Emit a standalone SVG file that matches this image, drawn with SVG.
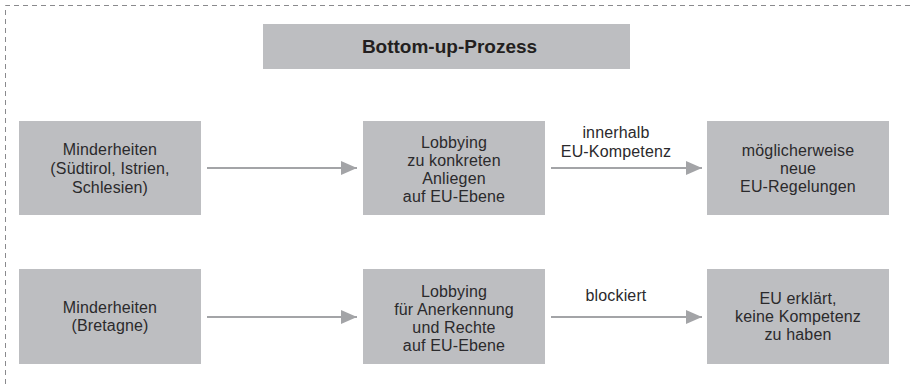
<svg xmlns="http://www.w3.org/2000/svg" width="911" height="384" viewBox="0 0 911 384">
  <defs>
    <marker id="arrow" viewBox="0 0 16 14" refX="16" refY="7" markerWidth="16" markerHeight="14" markerUnits="userSpaceOnUse" orient="auto">
      <path d="M0,0 L16,7 L0,14 Z" fill="#a3a4a7"/>
    </marker>
    <style>
      .frame { fill: none; stroke: #8a8a8d; stroke-width: 1; stroke-dasharray: 5 4; }
      .box { fill: #bdbec1; }
      .txt { font-family: "Liberation Sans", Arial, sans-serif; font-size: 16px; fill: #2b2a2c; text-anchor: middle; letter-spacing: 0.15px; }
      .title { font-family: "Liberation Sans", Arial, sans-serif; font-size: 19px; font-weight: bold; fill: #231f20; text-anchor: middle; }
      .conn { stroke: #a3a4a7; stroke-width: 2.2; fill: none; marker-end: url(#arrow); }
    </style>
  </defs>

  <!-- dashed outer frame (open towards right and bottom) -->
  <path class="frame" d="M5.5,384 V5.5 H911"/>

  <g id="title">
    <rect class="box" x="263" y="24" width="367" height="45"/>
    <text class="title" x="449.5" y="53">Bottom-up-Prozess</text>
  </g>

  <!-- row 1 -->
  <g id="minderheiten-1">
    <rect class="box" x="19" y="121" width="182" height="94"/>
    <text class="txt" x="110" y="174"><tspan x="110" dy="-19">Minderheiten</tspan><tspan x="110" dy="19">(Südtirol, Istrien,</tspan><tspan x="110" dy="19">Schlesien)</tspan></text>
  </g>
  <g id="lobbying-1">
    <rect class="box" x="363" y="121" width="182" height="94"/>
    <text class="txt" x="454" y="148"><tspan x="454">Lobbying</tspan><tspan x="454" dy="18">zu konkreten</tspan><tspan x="454" dy="18">Anliegen</tspan><tspan x="454" dy="18">auf EU-Ebene</tspan></text>
  </g>
  <g id="regelungen">
    <rect class="box" x="707" y="121" width="182" height="94"/>
    <text class="txt" x="798" y="156"><tspan x="798">möglicherweise</tspan><tspan x="798" dy="18">neue</tspan><tspan x="798" dy="18">EU-Regelungen</tspan></text>
  </g>

  <!-- row 2 -->
  <g id="minderheiten-2">
    <rect class="box" x="19" y="269" width="182" height="95"/>
    <text class="txt" x="110" y="313"><tspan x="110">Minderheiten</tspan><tspan x="110" dy="18">(Bretagne)</tspan></text>
  </g>
  <g id="lobbying-2">
    <rect class="box" x="363" y="269" width="182" height="95"/>
    <text class="txt" x="454" y="297"><tspan x="454">Lobbying</tspan><tspan x="454" dy="18">für Anerkennung</tspan><tspan x="454" dy="18">und Rechte</tspan><tspan x="454" dy="18">auf EU-Ebene</tspan></text>
  </g>
  <g id="keine-kompetenz">
    <rect class="box" x="707" y="269" width="182" height="95"/>
    <text class="txt" x="798" y="304"><tspan x="798">EU erklärt,</tspan><tspan x="798" dy="18">keine Kompetenz</tspan><tspan x="798" dy="18">zu haben</tspan></text>
  </g>

  <g id="connectors">
    <line class="conn" x1="207" y1="168" x2="357" y2="168"/>
    <line class="conn" x1="551" y1="168" x2="702" y2="168"/>
    <text class="txt" x="616" y="138"><tspan x="616">innerhalb</tspan><tspan x="616" dy="18.5">EU-Kompetenz</tspan></text>
    <line class="conn" x1="207" y1="317" x2="357" y2="317"/>
    <line class="conn" x1="551" y1="317" x2="702" y2="317"/>
    <text class="txt" x="616" y="301">blockiert</text>
  </g>
</svg>
